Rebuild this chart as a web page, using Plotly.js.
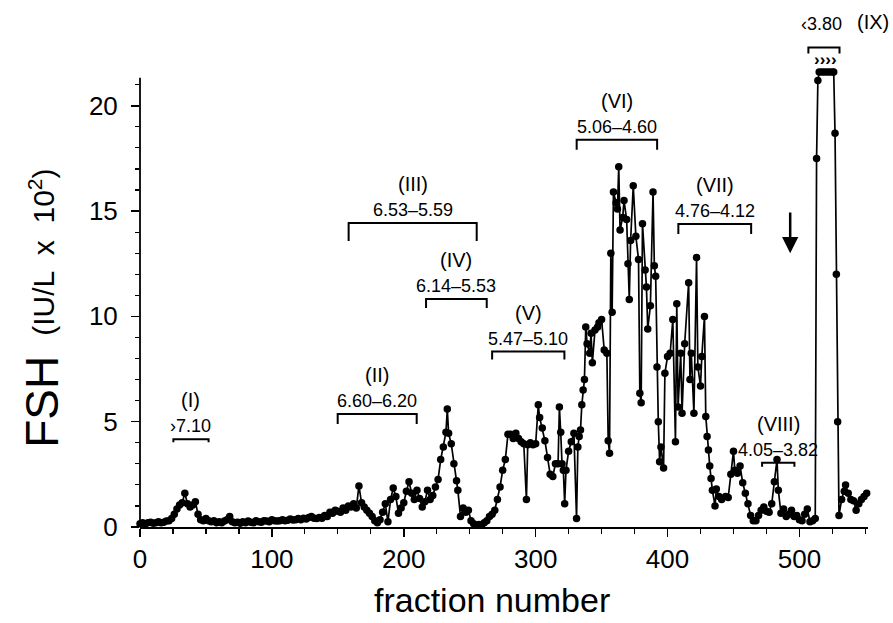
<!DOCTYPE html>
<html><head><meta charset="utf-8">
<script src="https://cdn.plot.ly/plotly-3.0.1.min.js"></script>
<style>html,body{margin:0;padding:0;background:#fff}#chart{width:893px;height:623px}</style>
</head><body><div id="chart"></div>
<script>
// fraction number (x) and FSH (IU/L x 10^2)
const fraction = [
  0,2,4,6,8,10,12,14,16,18,20,22,
  24,26,28,30,32,34,36,38,40,42,44,46,48,50,
  52,54,56,58,60,62,64,66,68,70,72,74,
  76,78,80,82,84,86,88,90,92,94,96,98,
  100,102,104,106,108,110,112,114,116,118,120,122,124,
  126,128,130,132,134,136,138,140,142,144,146,148,150,
  152,154,156,158,160,162,164,166,168,170,172,174,
  176,178,180,182,184,186,188,190,192,194,196,198,
  200,202,204,206,208,210,212,214,216,218,220,222,224,
  226,228,230,232,233,234,236,238,240,241,243,245,247,249,
  251,253,255,257,259,261,263,265,267,269,271,273,275,277,
  279,281,283,285,287,289,291,293,294,296,298,300,302,303,
  305,307,309,311,313,315,317,318,319,320,321,322,323,325,
  327,329,331,332,333,334,335,336,337,338,339,341,342,343,
  345,347,348,350,352,354,355,356,357,358,359,361,362,363,
  364,366,367,369,370,371,372,374,376,378,379,380,381,383,
  384,385,387,389,390,391,392,393,394,395,397,398,400,402,
  404,406,407,408,410,411,413,416,417,418,420,422,423,425,
  426,428,429,430,431,432,433,434,436,437,439,441,444,446,
  448,450,451,453,455,457,459,461,463,465,467,469,471,473,
  475,477,479,481,483,484,486,488,490,492,494,496,498,500,
  502,504,506,508,510,512,513,514,515,517,519,521,523,525,
  526,527,528,529,530,532,534,535,537,539,541,543,545,547,549,551
];
const fsh = [
  0.15,0.2,0.15,0.2,0.22,0.18,0.2,0.25,0.2,0.22,0.28,0.3,
  0.4,0.6,0.85,1.05,1.15,1.6,1.1,0.95,1.05,1.2,0.6,0.35,0.3,0.4,
  0.3,0.25,0.3,0.2,0.25,0.2,0.28,0.35,0.5,0.25,0.2,0.22,
  0.18,0.25,0.2,0.28,0.22,0.2,0.3,0.25,0.22,0.3,0.28,0.25,
  0.35,0.3,0.28,0.3,0.35,0.3,0.32,0.38,0.33,0.35,0.4,0.35,0.42,
  0.38,0.45,0.5,0.42,0.4,0.45,0.42,0.55,0.5,0.7,0.65,0.8,0.75,
  0.7,0.9,0.8,1.0,0.95,1.1,0.9,1.95,1.15,0.95,0.8,0.65,
  0.5,0.3,0.2,0.35,0.7,1.1,0.25,1.3,1.85,1.45,0.65,0.9,
  1.15,1.7,2.15,1.6,1.3,1.75,1.35,0.95,1.2,1.75,1.3,1.5,1.9,
  2.25,3.2,3.8,4.5,5.6,4.45,3.95,3.0,2.2,1.75,0.5,0.9,0.7,0.8,
  0.3,0.15,0.1,0.12,0.1,0.2,0.3,0.5,0.6,0.8,1.3,1.9,2.7,3.2,
  4.4,4.4,4.2,4.45,4.2,4.05,3.95,1.3,3.9,4.0,3.9,3.95,5.8,5.2,
  4.7,4.1,3.3,2.5,2.4,3.0,3.0,5.7,4.5,3.0,2.7,1.1,2.7,3.6,
  4.05,4.45,0.4,3.8,4.3,4.6,5.8,6.5,7.0,9.5,8.7,8.25,9.2,7.8,
  9.35,9.5,9.7,9.85,8.4,8.25,4.1,3.5,13.0,10.2,15.9,15.4,15.1,17.1,
  14.1,14.7,15.5,14.6,12.5,10.8,13.6,16.2,13.8,12.7,6.35,5.9,14.4,12.2,
  11.4,9.4,10.5,15.9,12.4,11.9,7.6,5.0,3.1,3.8,2.8,7.3,8.1,8.25,
  9.85,4.05,10.6,5.7,8.25,5.4,8.7,11.6,7.0,8.25,5.4,12.8,7.6,6.7,
  8.1,10.0,5.25,4.3,3.66,2.9,2.3,1.75,1.0,1.8,1.45,1.3,1.45,1.4,
  2.5,3.6,2.7,2.55,2.9,2.1,1.6,1.1,0.55,0.3,0.3,0.55,0.8,0.95,
  0.75,0.7,1.1,2.15,3.2,1.75,0.65,0.85,0.5,0.6,0.8,0.5,0.55,0.35,
  0.3,0.6,0.85,0.25,0.3,0.4,17.5,21.2,21.6,21.6,21.6,21.6,21.6,21.6,
  21.6,18.7,12.0,5.0,0.55,1.3,1.7,2.0,1.6,1.3,1.25,0.8,1.1,1.3,1.45,1.6
];

// pooled regions (isoelectric focusing pH ranges)
const poolNames  = ['(I)','(II)','(III)','(IV)','(V)','(VI)','(VII)','(VIII)','(IX)'];
const poolPH     = ['\u203A7.10','6.60\u20136.20','6.53\u20135.59','6.14\u20135.53','5.47\u20135.10','5.06\u20134.60','4.76\u20134.12','4.05\u20133.82','\u20393.80'];
const poolStart  = [25.3,149.9,158.2,216.9,267.0,331.1,408.2,471.7,506.8];
const poolEnd    = [52.0,209.8,255.3,262.9,321.8,392.1,463.4,496.2,530.4];
const poolLevel  = [4.17,5.37,14.43,10.82,8.33,18.38,14.38,3.05,22.77];
const poolHook   = [3,10,18,9,8,10,10,4,6];   // px
const offScaleMark = '\u203A\u203A\u203A\u203A';
const arrowFraction = 493, arrowTop = 15.0, arrowTip = 13.0;

const XMAX = 552, YTOP = 21.65, YAXIS_END = 21.33;
const PLOT_H = 456;
const px = v => v / XMAX;
const py = v => v / YTOP;

const FONT = 'Liberation Sans, Arial, sans-serif';

const shapes = [
  // y axis line (stops below the off-scale plateau, as in the original)
  {type:'line', xref:'paper', yref:'paper', x0:0, x1:0, y0:0, y1:py(YAXIS_END),
   line:{color:'#000', width:1.8}}
];
const annotations = [];
for (let i = 0; i < poolNames.length; i++) {
  const x0 = px(poolStart[i]), x1 = px(poolEnd[i]);
  const y = py(poolLevel[i]), yh = y - poolHook[i] / PLOT_H;
  shapes.push({type:'path', xref:'paper', yref:'paper',
    path:`M ${x0},${yh} L ${x0},${y} L ${x1},${y} L ${x1},${yh}`,
    line:{color:'#000', width:2}});
  const xc = (poolStart[i] + poolEnd[i]) / 2;
  if (i === poolNames.length - 1) {
    annotations.push({xref:'paper', yref:'paper', x:px(xc - 2), y:y, yshift:23, text:poolPH[i],
      showarrow:false, font:{family:FONT, size:18, color:'#000'}, xanchor:'center', yanchor:'middle'});
    annotations.push({xref:'paper', yref:'paper', x:px(xc + 37), y:y, yshift:25, text:poolNames[i],
      showarrow:false, font:{family:FONT, size:20, color:'#000'}, xanchor:'center', yanchor:'middle'});
    annotations.push({xref:'paper', yref:'paper', x:px(xc + 1), y:y, yshift:-12, text:offScaleMark,
      showarrow:false, font:{family:FONT, size:17, color:'#000', weight:'bold'}, xanchor:'center', yanchor:'middle'});
  } else {
    annotations.push({xref:'paper', yref:'paper', x:px(xc), y:y, yshift:13, text:poolPH[i],
      showarrow:false, font:{family:FONT, size:18, color:'#000'}, xanchor:'center', yanchor:'middle'});
    annotations.push({xref:'paper', yref:'paper', x:px(xc), y:y, yshift:39, text:poolNames[i],
      showarrow:false, font:{family:FONT, size:20, color:'#000'}, xanchor:'center', yanchor:'middle'});
  }
}
annotations.push({xref:'x', yref:'y', axref:'x', ayref:'y', x:arrowFraction, y:arrowTip,
  ax:arrowFraction, ay:arrowTop, text:'', showarrow:true, arrowhead:2, arrowsize:1.3,
  arrowwidth:2.5, arrowcolor:'#000'});
// y axis title (two parts)
annotations.push({xref:'paper', yref:'paper', x:-0.135, y:0.274, textangle:-90,
  text:'FSH', showarrow:false, font:{family:FONT, size:46, color:'#000'},
  xanchor:'center', yanchor:'middle'});
annotations.push({xref:'paper', yref:'paper', x:-0.135, y:0.603, textangle:-90,
  text:'(IU/L  x  10<sup>2</sup>)', showarrow:false, font:{family:FONT, size:30, color:'#000'},
  xanchor:'center', yanchor:'middle'});
annotations.push({xref:'paper', yref:'paper', x:0.4835, y:-0.16, text:'fraction number',
  showarrow:false, font:{family:FONT, size:34, color:'#000'}, xanchor:'center', yanchor:'middle'});

const trace = {
  x: fraction, y: fsh, type:'scatter', mode:'lines+markers', cliponaxis:false,
  line:{color:'#000', width:1.7},
  marker:{color:'#000', size:7.5, symbol:'circle'}
};

const layout = {
  width:893, height:623,
  margin:{l:140, r:25, t:71, b:96},
  paper_bgcolor:'#fff', plot_bgcolor:'#fff',
  showlegend:false,
  font:{family:FONT, color:'#000'},
  xaxis:{range:[0, XMAX], showline:true, linecolor:'#000', linewidth:1.8,
    zeroline:false, showgrid:false, ticks:'outside', ticklen:8, tickwidth:1.5, tickcolor:'#000',
    tickvals:[0,100,200,300,400,500], tickfont:{family:FONT, size:26, color:'#000'},
    ticklabelstandoff:0,
    minor:{dtick:25, tick0:0, ticks:'outside', ticklen:5, tickwidth:1.2, tickcolor:'#000', showgrid:false}},
  yaxis:{range:[0, YTOP], showline:false,
    zeroline:false, showgrid:false, ticks:'outside', ticklen:8, tickwidth:1.5, tickcolor:'#000',
    tickvals:[0,5,10,15,20], tickfont:{family:FONT, size:26, color:'#000'},
    ticklabelstandoff:8,
    minor:{dtick:1, tick0:0, ticks:'outside', ticklen:4, tickwidth:1.2, tickcolor:'#000', showgrid:false}},
  shapes: shapes,
  annotations: annotations
};

Plotly.newPlot('chart', [trace], layout, {displayModeBar:false, staticPlot:true});
</script>
</body></html>
